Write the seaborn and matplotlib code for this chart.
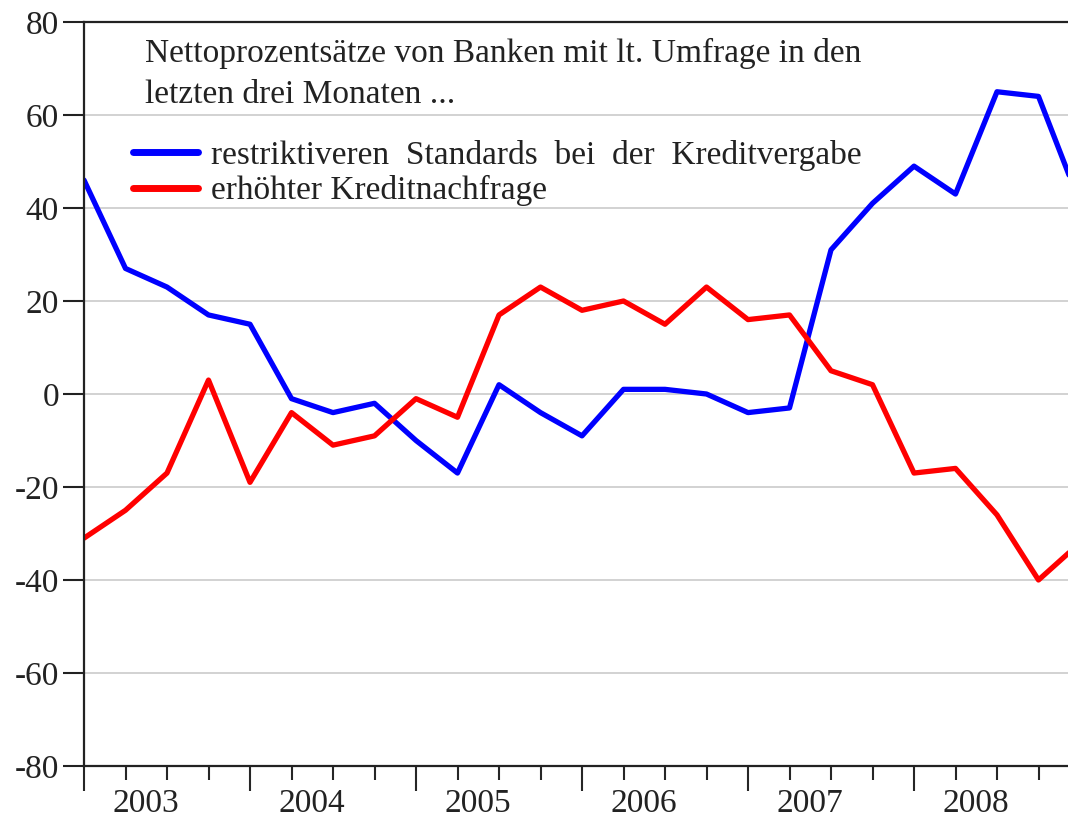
import numpy as np
import pandas as pd
import matplotlib
matplotlib.use("Agg")
import matplotlib.pyplot as plt
import seaborn as sns

# quarterly survey results, 2003Q1 .. 2009Q1 (last point only partly visible)
quarters = ["2003Q1", "2003Q2", "2003Q3", "2003Q4",
            "2004Q1", "2004Q2", "2004Q3", "2004Q4",
            "2005Q1", "2005Q2", "2005Q3", "2005Q4",
            "2006Q1", "2006Q2", "2006Q3", "2006Q4",
            "2007Q1", "2007Q2", "2007Q3", "2007Q4",
            "2008Q1", "2008Q2", "2008Q3", "2008Q4",
            "2009Q1"]
years = ["2003", "2004", "2005", "2006", "2007", "2008"]

standards = [46, 27, 23, 17, 15, -1, -4, -2, -10, -17, 2, -4, -9, 1, 1, 0,
             -4, -3, 31, 41, 49, 43, 65, 64, 41]
demand = [-31, -25, -17, 3, -19, -4, -11, -9, -1, -5, 17, 23, 18, 20, 15, 23,
          16, 17, 5, 2, -17, -16, -26, -40, -32]

label_standards = "restriktiveren  Standards  bei  der  Kreditvergabe"
label_demand = "erhöhter Kreditnachfrage"
title_lines = ["Nettoprozentsätze von Banken mit lt. Umfrage in den",
               "letzten drei Monaten ..."]


def main():
    sns.set_style("white")
    plt.rcParams['font.family'] = ['Liberation Serif', 'DejaVu Serif']
    plt.rcParams['axes.unicode_minus'] = False

    df = pd.DataFrame({"pos": np.arange(len(quarters)),
                       "quarter": quarters,
                       "standards": standards,
                       "demand": demand})

    fig = plt.figure(figsize=(10.68, 8.22), dpi=100)
    ax = fig.add_axes([84 / 1068, 1 - 766 / 822, (1068 - 84) / 1068, 744 / 822])

    sns.lineplot(data=df, x="pos", y="standards", color="#0000ff", lw=3.8,
                 label=label_standards, ax=ax)
    sns.lineplot(data=df, x="pos", y="demand", color="#ff0000", lw=3.8,
                 label=label_demand, ax=ax)

    ax.set_xticks(np.arange(0, len(quarters), 4))
    ax.set_xticks(np.arange(len(quarters)), minor=True)
    ax.set_xticklabels([])
    ax.set_yticks(np.arange(-80, 81, 20))
    ax.set_xlim(0, (1068 - 84) / 41.5)
    ax.set_ylim(-80, 80)
    ax.set_xlabel("")
    ax.set_ylabel("")

    ax.yaxis.grid(True, color="#cfcfcf", lw=1.3)
    ax.set_axisbelow(True)

    for s in ["left", "bottom", "top"]:
        ax.spines[s].set_color("#222222")
        ax.spines[s].set_linewidth(1.6)
    ax.spines["right"].set_visible(False)

    ax.tick_params(axis="y", which="major", direction="out", length=15, width=1.5,
                   left=True, labelsize=24, pad=3, colors="#222222")
    ax.tick_params(axis="x", which="major", direction="out", length=18, width=1.5,
                   bottom=True)
    ax.tick_params(axis="x", which="minor", direction="out", length=10, width=1.5,
                   bottom=True)

    # year labels centred on the four quarters of each year
    for i, yr in enumerate(years):
        ax.text(4 * i + 1.5, -0.051, yr, transform=ax.get_xaxis_transform(),
                ha="center", va="center", fontsize=24, color="#222222")

    fig.text(145 / 1068, 1 - 62 / 822, title_lines[0], ha="left", va="baseline",
             fontsize=24, color="#222222")
    fig.text(145 / 1068, 1 - 103 / 822, title_lines[1], ha="left", va="baseline",
             fontsize=24, color="#222222")

    leg = ax.legend(loc="upper left",
                    bbox_to_anchor=((133 - 84) / 984, 1 - (140 - 22) / 744),
                    frameon=False, fontsize=24, handlelength=1.95, handletextpad=0.4,
                    labelspacing=0.13, borderpad=0, borderaxespad=0)
    for ln in leg.get_lines():
        ln.set_linewidth(5)
    for t in leg.get_texts():
        t.set_color("#222222")

    plt.savefig("out.png", dpi=100)


if __name__ == "__main__":
    main()
